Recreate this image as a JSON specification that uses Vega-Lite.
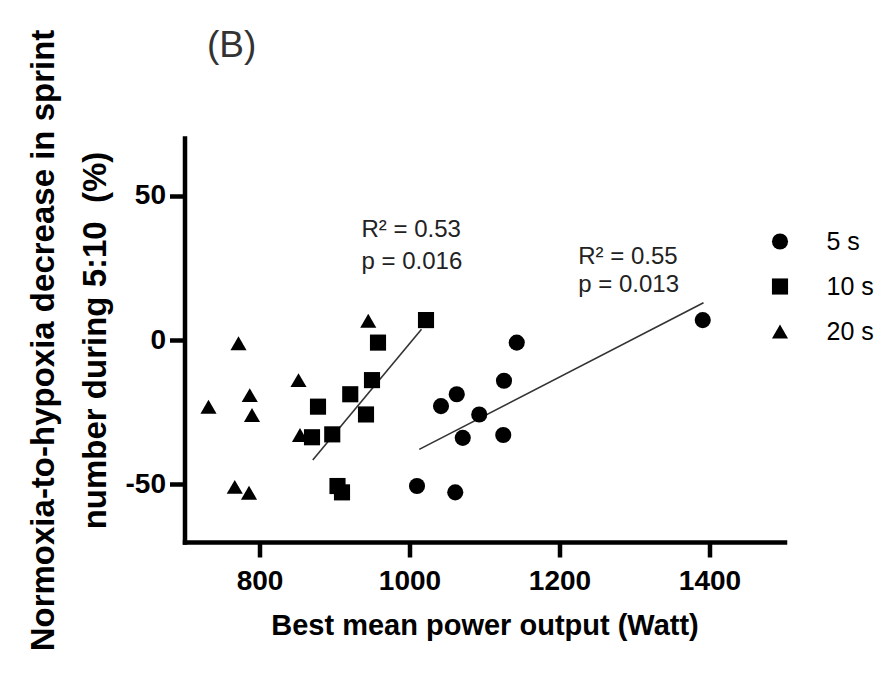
{
  "$schema": "https://vega.github.io/schema/vega-lite/v6.json",
  "width": 600,
  "height": 404,
  "autosize": {"type": "none"},
  "padding": {"left": 184.5, "top": 138, "right": 108.5, "bottom": 132},
  "background": "white",
  "config": {
    "view": {"stroke": null},
    "font": "Liberation Sans",
    "axis": {
      "grid": false,
      "domainColor": "black",
      "domainWidth": 4.5,
      "domainCap": "square",
      "tickColor": "black",
      "tickWidth": 4.5,
      "tickSize": 15,
      "labelFont": "Liberation Sans",
      "labelFontWeight": "bold",
      "labelColor": "black",
      "labelFontSize": 28,
      "titleFont": "Liberation Sans",
      "titleFontWeight": "bold",
      "titleColor": "black"
    }
  },
  "datasets": {
    "points": [
      {"power": 1391, "change": 6.9, "series": "5 s"},
      {"power": 1143, "change": -0.9, "series": "5 s"},
      {"power": 1126, "change": -14.1, "series": "5 s"},
      {"power": 1063, "change": -18.8, "series": "5 s"},
      {"power": 1042, "change": -22.9, "series": "5 s"},
      {"power": 1093, "change": -25.8, "series": "5 s"},
      {"power": 1071, "change": -33.9, "series": "5 s"},
      {"power": 1125, "change": -32.9, "series": "5 s"},
      {"power": 1010, "change": -50.6, "series": "5 s"},
      {"power": 1061, "change": -52.8, "series": "5 s"},
      {"power": 1022, "change": 6.9, "series": "10 s"},
      {"power": 958, "change": -0.9, "series": "10 s"},
      {"power": 950, "change": -13.9, "series": "10 s"},
      {"power": 921, "change": -18.8, "series": "10 s"},
      {"power": 878, "change": -23.1, "series": "10 s"},
      {"power": 942, "change": -25.8, "series": "10 s"},
      {"power": 897, "change": -32.7, "series": "10 s"},
      {"power": 870, "change": -33.7, "series": "10 s"},
      {"power": 904, "change": -50.6, "series": "10 s"},
      {"power": 910, "change": -52.8, "series": "10 s"},
      {"power": 772, "change": -1.1, "series": "20 s"},
      {"power": 732, "change": -23.1, "series": "20 s"},
      {"power": 787, "change": -19.1, "series": "20 s"},
      {"power": 790, "change": -26.0, "series": "20 s"},
      {"power": 852, "change": -13.9, "series": "20 s"},
      {"power": 945, "change": 6.7, "series": "20 s"},
      {"power": 854, "change": -32.9, "series": "20 s"},
      {"power": 767, "change": -50.9, "series": "20 s"},
      {"power": 786, "change": -52.9, "series": "20 s"}
    ],
    "fits": [
      {"power": 1013, "change": -37.9, "series": "5 s"},
      {"power": 1392, "change": 12.9, "series": "5 s"},
      {"power": 871, "change": -41.6, "series": "10 s"},
      {"power": 1016, "change": 3.7, "series": "10 s"}
    ],
    "notes": [
      {"power": 936, "change": 38.1, "text": "R² = 0.53"},
      {"power": 936, "change": 27.1, "text": "p = 0.016"},
      {"power": 1225, "change": 28.9, "text": "R² = 0.55"},
      {"power": 1225, "change": 19.1, "text": "p = 0.013"}
    ],
    "panel": [
      {"power": 730, "change": 98.1, "text": "(B)"}
    ]
  },
  "layer": [
    {
      "data": {"name": "fits"},
      "mark": {"type": "line", "color": "#333333", "strokeWidth": 1.6},
      "encoding": {
        "x": {
          "field": "power",
          "type": "quantitative",
          "scale": {"domain": [700, 1500], "nice": false, "zero": false},
          "axis": {
            "values": [800, 1000, 1200, 1400],
            "format": "d",
            "title": "Best mean power output (Watt)",
            "titleFontSize": 29,
            "labelPadding": 10,
            "titlePadding": 16
          }
        },
        "y": {
          "field": "change",
          "type": "quantitative",
          "scale": {"domain": [-70, 70], "nice": false, "zero": false},
          "axis": {
            "values": [-50, 0, 50],
            "labelExpr": "datum.value < 0 ? '-' + abs(datum.value) : '' + datum.value",
            "title": ["Normoxia-to-hypoxia decrease in sprint", "number during 5:10\u00a0\u00a0(%)"],
            "titleFontSize": 33,
            "titleLineHeight": 52,
            "labelPadding": 4,
            "titlePadding": 13
          }
        },
        "detail": {"field": "series"}
      }
    },
    {
      "data": {"name": "points"},
      "mark": {"type": "point", "filled": true, "color": "black", "opacity": 1, "strokeWidth": 0, "size": 260},
      "encoding": {
        "x": {"field": "power", "type": "quantitative"},
        "y": {"field": "change", "type": "quantitative"},
        "shape": {
          "field": "series",
          "type": "nominal",
          "scale": {"domain": ["5 s", "10 s", "20 s"], "range": ["circle", "square", "triangle-up"]},
          "legend": {
            "title": null,
            "orient": "none",
            "legendX": 583,
            "legendY": 91,
            "labelFontSize": 25,
            "labelFont": "Liberation Sans",
            "labelColor": "black",
            "symbolSize": 260,
            "symbolFillColor": "black",
            "symbolStrokeColor": "black",
            "symbolStrokeWidth": 0,
            "rowPadding": 19,
            "labelOffset": 34
          }
        }
      }
    },
    {
      "data": {"name": "notes"},
      "mark": {"type": "text", "align": "left", "baseline": "middle", "fontSize": 24, "font": "Liberation Sans", "color": "#222222"},
      "encoding": {
        "x": {"field": "power", "type": "quantitative"},
        "y": {"field": "change", "type": "quantitative"},
        "text": {"field": "text"}
      }
    },
    {
      "data": {"name": "panel"},
      "mark": {"type": "text", "align": "left", "baseline": "alphabetic", "fontSize": 37, "font": "Liberation Sans", "color": "#333333", "clip": false},
      "encoding": {
        "x": {"field": "power", "type": "quantitative"},
        "y": {"field": "change", "type": "quantitative"},
        "text": {"field": "text"}
      }
    }
  ]
}
